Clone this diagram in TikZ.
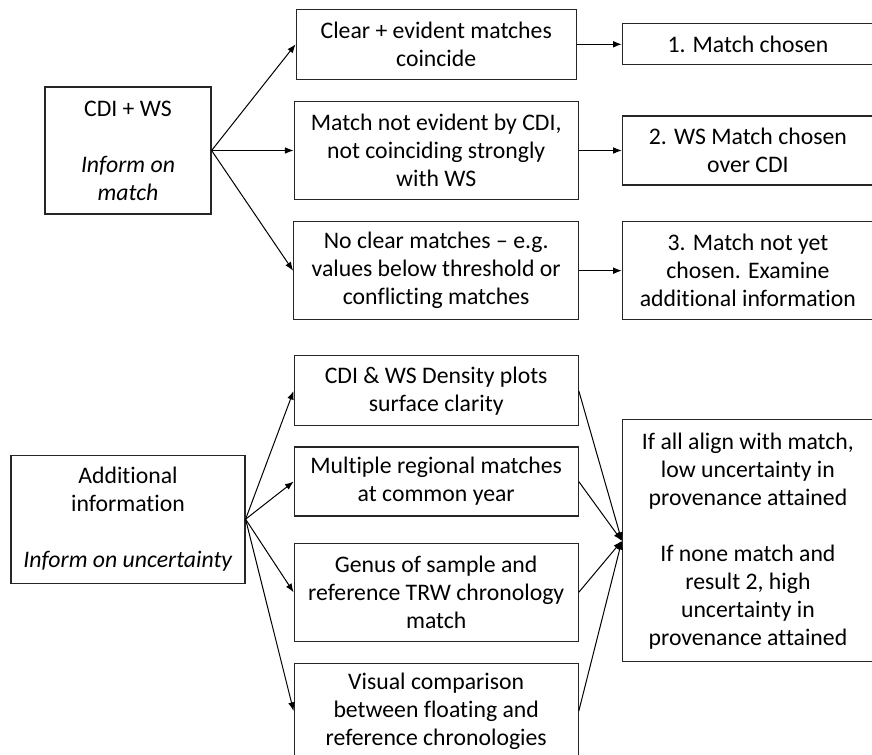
\documentclass[tikz,border=0pt]{standalone}
\usepackage{fontspec}
\setmainfont{Carlito}[Ligatures=NoCommon]
\usetikzlibrary{arrows.meta}
\usetikzlibrary{positioning}
\tikzset{
  bx/.style={rectangle, draw=black!85, line width=0.9pt, align=center, text centered, inner sep=2pt, font=\fontsize{17.8}{21}\selectfont},
  ar/.style={-{Latex[length=6.5pt,width=5pt]}, line width=0.75pt},
  node distance=15.75pt
}
\begin{document}
\begin{tikzpicture}
\useasboundingbox (-96pt,112.875pt) rectangle (558pt,-453.375pt);
\node[bx, minimum width=124.5pt, minimum height=95.25pt] (cdiws) {CDI + WS\\[21pt]\textit{Inform on}\\\textit{match}};
\node[bx, minimum width=213pt, minimum height=73.5pt, right=61.5pt of cdiws] (notevid) {Match not evident by CDI,\\not coinciding strongly\\with WS};
\node[bx, minimum width=210pt, minimum height=52.5pt, above=of notevid] (clear) {Clear + evident matches\\coincide};
\node[bx, minimum width=213.75pt, minimum height=73.5pt, below=of notevid] (noclear) {No clear matches -- e.g.\\values below threshold or\\conflicting matches};
\node[bx, minimum width=188.25pt, minimum height=30.75pt, right=33.75pt of clear] (res1) {1. Match chosen};
\node[bx, minimum width=188.25pt, minimum height=51.75pt, right=32.25pt of notevid] (res2) {2. WS Match chosen\\over CDI};
\node[bx, minimum width=188.25pt, minimum height=73.5pt, right=31.9pt of noclear] (res3) {3. Match not yet\\chosen. Examine\\additional information};
%
\node[bx, minimum width=175.5pt, minimum height=96pt, below=180pt of cdiws] (addinfo) {Additional\\information\\[21pt]\textit{Inform on uncertainty}};
\node[bx, minimum width=213pt, minimum height=52.5pt, below=26.25pt of noclear] (dens) {CDI \& WS Density plots\\surface clarity};
\node[bx, minimum width=213pt, minimum height=51.75pt, below=15pt of dens] (regional) {Multiple regional matches\\at common year};
\node[bx, minimum width=213pt, minimum height=73.5pt, below=19.5pt of regional] (genus) {Genus of sample and\\reference TRW chronology\\match};
\node[bx, minimum width=213pt, minimum height=71.25pt, below=15.75pt of genus] (visual) {Visual comparison\\between floating and\\reference chronologies};
\node[bx, minimum width=188.25pt, minimum height=181.5pt, below=74.25pt of res3] (uncert) {If all align with match,\\low uncertainty in\\provenance attained\\[21pt]If none match and\\result 2, high\\uncertainty in\\provenance attained};
%
\draw[ar] (cdiws.east) -- (clear.west);
\draw[ar] (cdiws.east) -- (notevid.west);
\draw[ar] (cdiws.east) -- (noclear.west);
\draw[ar] (clear) -- (res1);
\draw[ar] (notevid) -- (res2);
\draw[ar] (noclear) -- (res3);
\draw[ar] (addinfo.east) -- (dens.west);
\draw[ar] (addinfo.east) -- (regional.west);
\draw[ar] (addinfo.east) -- (genus.west);
\draw[ar] (addinfo.east) -- (visual.west);
\draw[ar] (dens.east) -- (uncert.west);
\draw[ar] (regional.east) -- (uncert.west);
\draw[ar] (genus.east) -- (uncert.west);
\draw[ar] (visual.east) -- (uncert.west);
\end{tikzpicture}
\end{document}
